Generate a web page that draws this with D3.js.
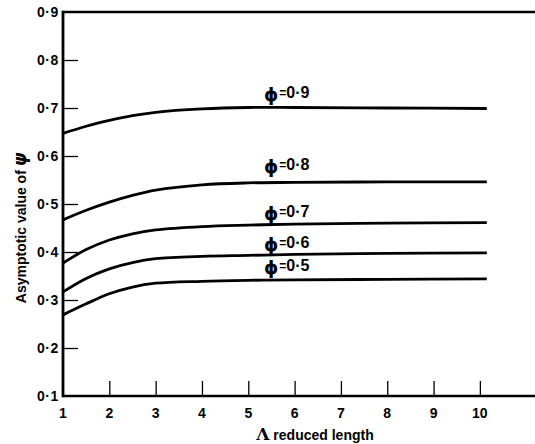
<!DOCTYPE html>
<html><head><meta charset="utf-8">
<script src="https://cdn.jsdelivr.net/npm/d3@7"></script>
<style>body{margin:0;background:#fff}svg{display:block}text{font-family:"Liberation Sans",Arial,sans-serif;fill:#000}</style>
</head><body><svg id="c" width="535" height="444"></svg>
<script>
const lambda = [1, 1.5, 2, 2.5, 3, 4, 5, 6, 8, 10.15];
const phi09 = [0.647, 0.662, 0.674, 0.684, 0.691, 0.698, 0.701, 0.701, 0.700, 0.699];
const phi08 = [0.467, 0.487, 0.504, 0.518, 0.529, 0.540, 0.544, 0.545, 0.546, 0.546];
const phi07 = [0.377, 0.405, 0.425, 0.438, 0.446, 0.453, 0.456, 0.458, 0.460, 0.461];
const phi06 = [0.317, 0.345, 0.365, 0.378, 0.386, 0.391, 0.393, 0.395, 0.397, 0.398];
const phi05 = [0.269, 0.292, 0.313, 0.327, 0.335, 0.339, 0.341, 0.342, 0.343, 0.344];
const seriesNames = ["ϕ=0·9", "ϕ=0·8", "ϕ=0·7", "ϕ=0·6", "ϕ=0·5"];
const labelPos = [[5.83, 0.721], [5.83, 0.571], [5.83, 0.473], [5.83, 0.408], [5.83, 0.36]];
const xTicks = [1, 2, 3, 4, 5, 6, 7, 8, 9, 10];
const yTicks = [0.1, 0.2, 0.3, 0.4, 0.5, 0.6, 0.7, 0.8, 0.9];
const yTickLabels = ["0·1", "0·2", "0·3", "0·4", "0·5", "0·6", "0·7", "0·8", "0·9"];

const svg = d3.select("#c");
const x = d3.scaleLinear().domain([1, 11.19]).range([63, 535]);
const y = d3.scaleLinear().domain([0.1, 0.9]).range([396, 12]);

// frame
const g = svg.append("g");
g.append("line").attr("x1", x(1)).attr("x2", x(1)).attr("y1", y(0.9)-1.2).attr("y2", y(0.1)+1.2).attr("stroke", "#000").attr("stroke-width", 2.8);
g.append("line").attr("x1", x(1)).attr("x2", 535).attr("y1", y(0.9)).attr("y2", y(0.9)).attr("stroke", "#000").attr("stroke-width", 2.4);
g.append("line").attr("x1", x(1)).attr("x2", 535).attr("y1", y(0.1)).attr("y2", y(0.1)).attr("stroke", "#000").attr("stroke-width", 2.4);

// y ticks (inward)
const yAxis = d3.axisRight(y).tickValues(yTicks.slice(1, -1)).tickSize(15).tickFormat("");
svg.append("g").attr("transform", `translate(${x(1)},0)`).call(yAxis)
  .call(s => s.select(".domain").remove())
  .call(s => s.selectAll("line").attr("stroke-width", 1.3));
// x ticks (up)
const xAxis = d3.axisTop(x).tickValues(xTicks.slice(1)).tickSize(15).tickFormat("");
svg.append("g").attr("transform", `translate(0,${y(0.1)})`).call(xAxis)
  .call(s => s.select(".domain").remove())
  .call(s => s.selectAll("line").attr("stroke-width", 1.3));

// tick labels
svg.append("g").selectAll("text").data(yTicks).join("text")
  .attr("x", 59).attr("y", d => y(d) + 5).attr("text-anchor", "end")
  .attr("font-size", 14).attr("font-weight", "bold").attr("letter-spacing", 0.6)
  .text((d, i) => yTickLabels[i]);
svg.append("g").selectAll("text").data(xTicks).join("text")
  .attr("x", d => x(d)).attr("y", 418).attr("text-anchor", "middle")
  .attr("font-size", 14).attr("font-weight", "bold").text(d => d);

// axis titles
svg.append("text").attr("x", 315).attr("y", 440).attr("text-anchor", "middle")
  .attr("font-size", 14).attr("font-weight", "bold")
  .html('<tspan font-family="DejaVu Serif" font-size="17">Λ</tspan> reduced length');
svg.append("text").attr("transform", "translate(26,228) rotate(-90)").attr("text-anchor", "middle")
  .attr("font-size", 14).attr("font-weight", "bold")
  .html('Asymptotic value of <tspan font-style="italic" font-family="DejaVu Sans" font-size="17">ψ</tspan>');

// curves
const allSeries = [phi09, phi08, phi07, phi06, phi05];
const line = d3.line().x((d, i) => x(lambda[i])).y(d => y(d)).curve(d3.curveCatmullRom.alpha(0.5));
svg.append("g").selectAll("path").data(allSeries).join("path")
  .attr("d", line).attr("fill", "none").attr("stroke", "#000").attr("stroke-width", 2.8);

// curve labels
svg.append("g").selectAll("text").data(seriesNames).join("text")
  .attr("x", (d, i) => x(labelPos[i][0])).attr("y", (d, i) => y(labelPos[i][1]))
  .attr("text-anchor", "middle").attr("font-size", 16).attr("font-weight", "bold")
  .html(d => `<tspan font-family="DejaVu Sans" font-size="18" dy="3">${d[0]}</tspan><tspan font-size="12" dx="1" dy="-4">=</tspan><tspan dy="1">${d.slice(2)}</tspan>`);
</script></body></html>
